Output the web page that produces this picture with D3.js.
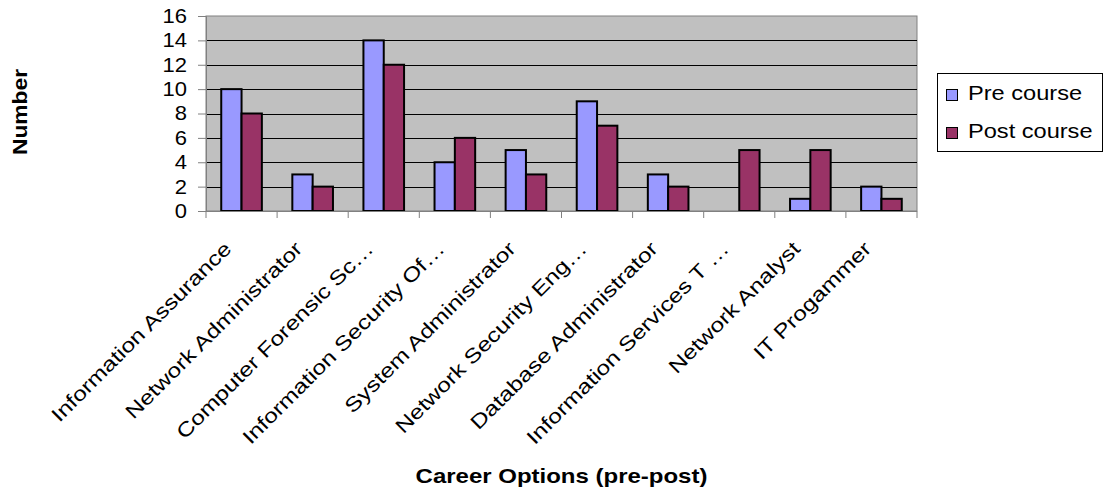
<!DOCTYPE html>
<html>
<head>
<meta charset="utf-8">
<script src="https://cdn.jsdelivr.net/npm/d3@7"></script>
<style>
  html, body { margin: 0; padding: 0; background: #fff; }
  svg { display: block; font-family: Arial, "Liberation Sans", sans-serif; }
</style>
</head>
<body>
<svg id="chart" width="1106" height="488"></svg>
<script>
// Career options chosen before and after the course
const categories = [
  "Information Assurance",
  "Network Administrator",
  "Computer Forensic Sc\u2026",
  "Information Security Of\u2026",
  "System Administrator",
  "Network Security Eng\u2026",
  "Database Administrator",
  "Information Services T \u2026",
  "Network Analyst",
  "IT Progammer"
];
const preCourse  = [10, 3, 14, 4, 5, 9, 3, 0, 1, 2];
const postCourse = [8, 2, 12, 6, 3, 7, 2, 5, 5, 1];
const seriesNames = ["Pre course", "Post course"];
const seriesColors = ["#9999FF", "#993366"];
const yTicks = [0, 2, 4, 6, 8, 10, 12, 14, 16];

const svg = d3.select("#chart");
const plot = { left: 206, right: 917, top: 16, bottom: 211 };
const WIDE = 1.18;        // wide text rendering along the baseline
const WIDE_CAT = 1.23;    // category labels run a little wider

const x = d3.scaleBand().domain(categories).range([plot.left, plot.right]).padding(0);
const barW = x.bandwidth() / 3.5;       // gap equals 1.5 bar widths
const y = d3.scaleLinear().domain([0, 16]).range([plot.bottom, plot.top]);

// plot background
svg.append("rect")
  .attr("x", plot.left).attr("y", plot.top)
  .attr("width", plot.right - plot.left).attr("height", plot.bottom - plot.top)
  .attr("fill", "#C0C0C0").attr("stroke", "#808080").attr("stroke-width", 1);

// horizontal gridlines
svg.append("g").selectAll("line")
  .data(yTicks.filter(t => t > 0 && t < 16))
  .join("line")
  .attr("x1", plot.left).attr("x2", plot.right)
  .attr("y1", d => Math.round(y(d)) + 0.5).attr("y2", d => Math.round(y(d)) + 0.5)
  .attr("stroke", "#000").attr("stroke-width", 1);

// bars
const data = categories.map((c, i) => ({ c, vals: [preCourse[i], postCourse[i]] }));
const groups = svg.append("g").selectAll("g")
  .data(data).join("g")
  .attr("transform", d => `translate(${x(d.c) + (x.bandwidth() - 2 * barW) / 2},0)`);
groups.selectAll("rect")
  .data(d => d.vals.map((v, s) => ({ v, s })))
  .join("rect")
  .attr("x", d => d.s * barW)
  .attr("y", d => y(d.v))
  .attr("width", barW)
  .attr("height", d => y(0) - y(d.v))
  .attr("fill", d => seriesColors[d.s])
  .attr("stroke", "#000")
  .attr("stroke-width", d => d.v > 0 ? 2 : 0);

// y axis
const yAxis = svg.append("g")
  .attr("transform", `translate(${plot.left},0)`)
  .call(d3.axisLeft(y).tickValues(yTicks).tickSize(8).tickPadding(11));
yAxis.select(".domain").attr("stroke", "#808080");
yAxis.selectAll(".tick line").attr("stroke", "#808080");
yAxis.selectAll(".tick text")
  .attr("font-size", 20).attr("fill", "#000")
  .attr("x", null)
  .attr("transform", "translate(-19,0) scale(1.1,1)");

// x axis with ticks on category boundaries
const xAxis = svg.append("g")
  .attr("transform", `translate(0,${plot.bottom})`);
xAxis.append("line")
  .attr("x1", plot.left).attr("x2", plot.right)
  .attr("y1", 0.5).attr("y2", 0.5)
  .attr("stroke", "#808080");
const bounds = categories.map(c => x(c)).concat([plot.right]);
xAxis.selectAll("line.tk").data(bounds).join("line")
  .attr("class", "tk")
  .attr("x1", d => d).attr("x2", d => d)
  .attr("y1", 0).attr("y2", 7)
  .attr("stroke", "#808080");
xAxis.selectAll("text").data(categories).join("text")
  .attr("transform", d => `translate(${x(d) + x.bandwidth() / 2 - 9},${39}) rotate(-45) scale(${WIDE_CAT},1)`)
  .attr("text-anchor", "end")
  .attr("font-size", 20)
  .text(d => d);

// axis titles
svg.append("text")
  .attr("transform", "translate(27,112) rotate(-90) scale(1.14,1)")
  .attr("text-anchor", "middle")
  .attr("font-size", 20).attr("font-weight", "bold")
  .text("Number");
svg.append("text")
  .attr("transform", "translate(561.5,483) scale(1.2,1)")
  .attr("text-anchor", "middle")
  .attr("font-size", 20).attr("font-weight", "bold")
  .text("Career Options (pre-post)");

// legend
const legend = svg.append("g");
legend.append("rect")
  .attr("x", 937.5).attr("y", 73.5).attr("width", 165).attr("height", 78)
  .attr("fill", "#fff").attr("stroke", "#000").attr("stroke-width", 1);
const items = legend.selectAll("g.item").data(seriesNames).join("g")
  .attr("class", "item")
  .attr("transform", (d, i) => `translate(946,${89 + i * 38})`);
items.append("rect")
  .attr("x", 0.5).attr("y", 0.5).attr("width", 11).attr("height", 11)
  .attr("fill", (d, i) => seriesColors[i]).attr("stroke", "#000");
items.append("text")
  .attr("transform", `translate(22,10.5) scale(${WIDE},1)`)
  .attr("font-size", 20)
  .text(d => d);
</script>
</body>
</html>
